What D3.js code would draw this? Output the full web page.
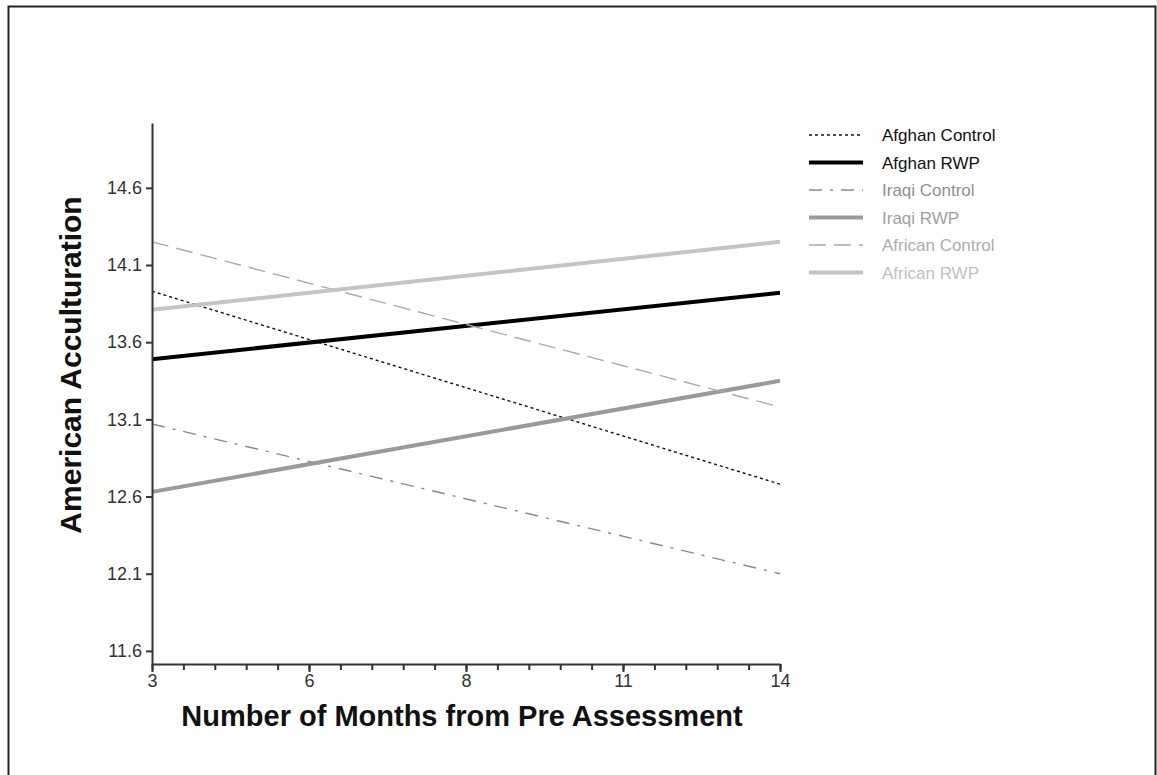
<!DOCTYPE html>
<html>
<head>
<meta charset="utf-8">
<script src="https://cdn.jsdelivr.net/npm/d3@7"></script>
<style>
  html, body { margin: 0; padding: 0; background: #fff; }
  svg { display: block; font-family: "Liberation Sans", Arial, sans-serif; }
</style>
</head>
<body>
<svg id="chart" width="1157" height="775"></svg>
<script>
// Time points (months from pre assessment), shown at equal spacing
const monthLabels = ["3", "6", "8", "11", "14"];
const yTicks = [11.6, 12.1, 12.6, 13.1, 13.6, 14.1, 14.6];

// Estimated acculturation at first and last time point
const seriesNames = ["Afghan Control", "Afghan RWP", "Iraqi Control", "Iraqi RWP", "African Control", "African RWP"];
const afghanControl = [13.93, 12.68];
const afghanRWP = [13.49, 13.92];
const iraqiControl = [13.07, 12.10];
const iraqiRWP = [12.63, 13.35];
const africanControl = [14.25, 13.18];
const africanRWP = [13.81, 14.25];
const seriesValues = [afghanControl, afghanRWP, iraqiControl, iraqiRWP, africanControl, africanRWP];

const styles = [
  { color: "#111", width: 1.4, dash: "3,3", text: "#111" },
  { color: "#000", width: 4, dash: null, text: "#111" },
  { color: "#8a8a8a", width: 1.4, dash: "13,8,3,8", text: "#8f8f8f" },
  { color: "#9a9a9a", width: 4, dash: null, text: "#a0a0a0" },
  { color: "#ababab", width: 1.4, dash: "17,8", text: "#adadad" },
  { color: "#c4c4c4", width: 4, dash: null, text: "#c0c0c0" }
];

const svg = d3.select("#chart");

// outer frame
svg.append("rect")
  .attr("x", 8.5).attr("y", 6.5)
  .attr("width", 1147).attr("height", 790)
  .attr("fill", "none").attr("stroke", "#222").attr("stroke-width", 2);

const x = d3.scaleLinear().domain([0, monthLabels.length - 1]).range([152, 780]);
const y = d3.scaleLinear().domain([11.515, 15.02]).range([664, 123]);

// series lines
const line = d3.line().x(d => x(d[0])).y(d => y(d[1]));
const lastIdx = monthLabels.length - 1;
seriesValues.forEach((vals, i) => {
  const st = styles[i];
  svg.append("path")
    .datum([[0, vals[0]], [lastIdx, vals[1]]])
    .attr("d", line)
    .attr("fill", "none")
    .attr("stroke", st.color)
    .attr("stroke-width", st.width)
    .attr("stroke-dasharray", st.dash);
});

// y axis
const yAxis = svg.append("g")
  .attr("transform", "translate(152,0)")
  .call(d3.axisLeft(y).tickValues(yTicks).tickFormat(d3.format(".1f")).tickSize(6).tickSizeOuter(0).tickPadding(4));
yAxis.select(".domain").attr("stroke", "#333").attr("stroke-width", 2);
yAxis.selectAll(".tick line").attr("stroke", "#333").attr("stroke-width", 2);
yAxis.selectAll(".tick text").attr("fill", "#333").style("font-size", "18px")
  .style("font-family", "'Liberation Sans', Arial, sans-serif");

// x axis: minor ticks
const minor = d3.range(0, lastIdx + 0.001, 0.2);
const xMinor = svg.append("g")
  .attr("transform", "translate(0,664)")
  .call(d3.axisBottom(x).tickValues(minor).tickFormat("").tickSize(6).tickSizeOuter(0));
xMinor.select(".domain").attr("stroke", "#333").attr("stroke-width", 2);
xMinor.selectAll(".tick line").attr("stroke", "#333").attr("stroke-width", 2);

// x axis: labelled ticks
const xAxis = svg.append("g")
  .attr("transform", "translate(0,664)")
  .call(d3.axisBottom(x).tickValues(d3.range(monthLabels.length)).tickFormat(i => monthLabels[i]).tickSize(8).tickSizeOuter(0).tickPadding(2));
xAxis.select(".domain").remove();
xAxis.selectAll(".tick line").attr("stroke", "#333").attr("stroke-width", 2);
xAxis.selectAll(".tick text").attr("fill", "#333").style("font-size", "18px")
  .style("font-family", "'Liberation Sans', Arial, sans-serif");

// axis titles
svg.append("text")
  .attr("x", 462).attr("y", 726)
  .attr("text-anchor", "middle")
  .style("font-size", "29px").style("font-weight", "bold")
  .attr("fill", "#111")
  .text("Number of Months from Pre Assessment");

svg.append("text")
  .attr("transform", "translate(81,365) rotate(-90)")
  .attr("text-anchor", "middle")
  .style("font-size", "30px").style("font-weight", "bold")
  .attr("fill", "#111")
  .text("American Acculturation");

// legend
const legend = svg.append("g");
seriesNames.forEach((name, i) => {
  const st = styles[i];
  const ly = 135 + i * 27.5;
  legend.append("line")
    .attr("x1", 809).attr("x2", 863).attr("y1", ly).attr("y2", ly)
    .attr("stroke", st.color).attr("stroke-width", st.width)
    .attr("stroke-dasharray", st.dash);
  legend.append("text")
    .attr("x", 882).attr("y", ly + 6)
    .style("font-size", "17px")
    .attr("fill", st.text)
    .text(name);
});
</script>
</body>
</html>
